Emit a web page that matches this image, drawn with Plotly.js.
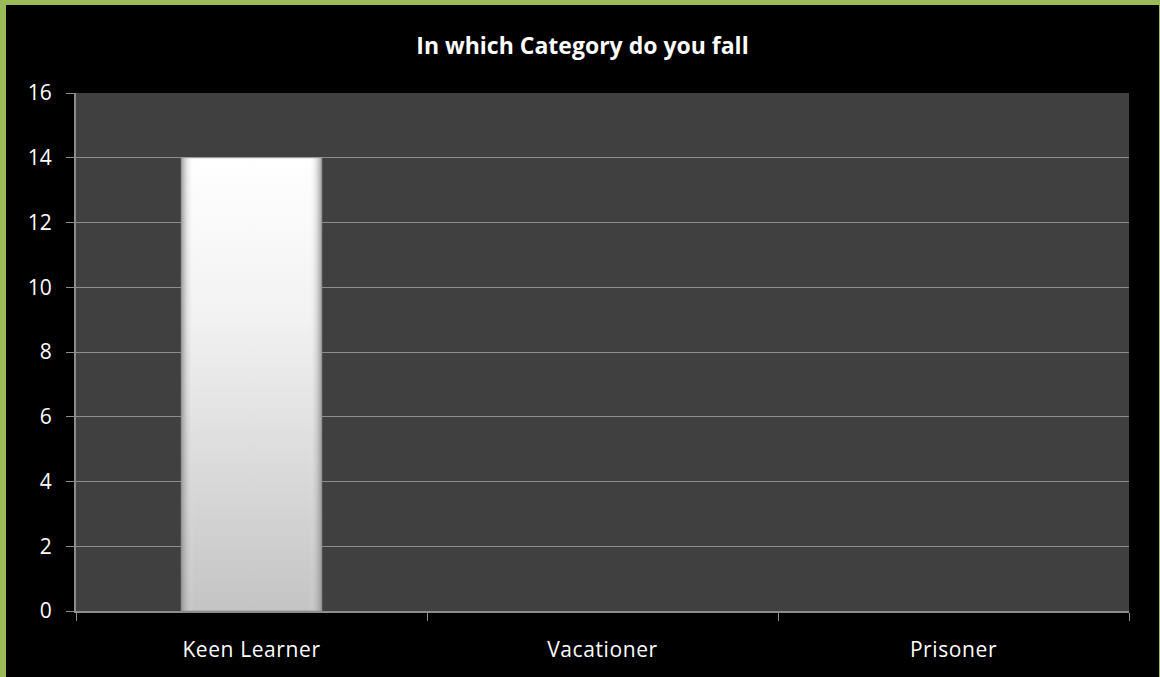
<!DOCTYPE html>
<html>
<head>
<meta charset="utf-8">
<script src="https://cdn.plot.ly/plotly-3.0.1.min.js"></script>
<style>
  html, body { margin: 0; padding: 0; background: #9bbb59; width: 1160px; height: 677px; overflow: hidden; }
  #chart { position: absolute; left: 6px; top: 5px; width: 1153px; height: 672px; background: #000; }
  .xtick text { letter-spacing: 0.6px; }
</style>
</head>
<body>
<div id="chart"></div>
<script>
const categories = ["Keen Learner", "Vacationer", "Prisoner"];
const values = [14, 0, 0];
const yTicks = [0, 2, 4, 6, 8, 10, 12, 14, 16];
const chartTitle = "In which Category do you fall";

const trace = {
  type: "bar",
  x: categories,
  y: values,
  width: 0.4,
  marker: { color: "#e6e6e6", line: { color: "#9a9a9a", width: values.map(function (v) { return v > 0 ? 1 : 0; }) } },
  hoverinfo: "x+y"
};

const layout = {
  width: 1153,
  height: 672,
  paper_bgcolor: "#000000",
  plot_bgcolor: "#404040",
  margin: { l: 70, r: 30, t: 88, b: 66 },
  showlegend: false,
  title: {
    text: chartTitle,
    font: { family: "Open Sans", size: 23, color: "#ffffff", weight: "bold" },
    x: 0.5, xref: "container", y: 1 - 41 / 672, yref: "container", yanchor: "middle"
  },
  font: { family: "Open Sans", color: "#ffffff", size: 21 },
  xaxis: {
    type: "category",
    tickson: "boundaries",
    ticks: "outside",
    ticklen: 8,
    tickcolor: "#8c8c8c",
    tickwidth: 1,
    showline: true,
    linecolor: "#8c8c8c",
    linewidth: 2,
    showgrid: false,
    ticklabelstandoff: 19,
    tickfont: { family: "Open Sans", size: 21, color: "#ffffff" },
    fixedrange: true
  },
  yaxis: {
    range: [0, 16],
    tickvals: yTicks,
    ticktext: yTicks.map(String),
    ticks: "outside",
    ticklen: 8,
    tickcolor: "#8c8c8c",
    showline: true,
    linecolor: "#8c8c8c",
    linewidth: 2,
    showgrid: true,
    gridcolor: "#8c8c8c",
    gridwidth: 1,
    zeroline: false,
    ticklabelstandoff: 10,
    tickfont: { family: "Open Sans", size: 21, color: "#ffffff" },
    fixedrange: true
  }
};

Plotly.newPlot("chart", [trace], layout, { displayModeBar: false, staticPlot: true }).then(function (gd) {
  const svgNS = "http://www.w3.org/2000/svg";
  const svg = gd.querySelector("svg.main-svg");
  let defs = svg.querySelector("defs");
  if (!defs) { defs = document.createElementNS(svgNS, "defs"); svg.insertBefore(defs, svg.firstChild); }
  function grad(id, x2, y2, stops) {
    const g = document.createElementNS(svgNS, "linearGradient");
    g.setAttribute("id", id);
    g.setAttribute("x1", "0"); g.setAttribute("y1", "0");
    g.setAttribute("x2", x2); g.setAttribute("y2", y2);
    stops.forEach(function (s) {
      const st = document.createElementNS(svgNS, "stop");
      st.setAttribute("offset", s[0]);
      st.setAttribute("stop-color", s[1]);
      st.setAttribute("stop-opacity", s[2]);
      g.appendChild(st);
    });
    defs.appendChild(g);
  }
  grad("barV", "0", "1", [["0", "#ffffff", 1], ["0.35", "#f2f2f2", 1], ["1", "#c4c4c4", 1]]);
  grad("barH", "1", "0", [["0", "#8a8a8a", 0.8], ["0.04", "#a8a8a8", 0.3], ["0.09", "#ffffff", 0], ["0.91", "#ffffff", 0], ["0.96", "#a8a8a8", 0.3], ["1", "#8a8a8a", 0.8]]);
  gd.querySelectorAll(".barlayer .point path").forEach(function (p) {
    p.style.fill = "url(#barV)";
    p.style.fillOpacity = 1;
    const c = p.cloneNode(true);
    c.style.fill = "url(#barH)";
    c.style.stroke = "none";
    p.parentNode.appendChild(c);
  });
});
</script>
</body>
</html>
